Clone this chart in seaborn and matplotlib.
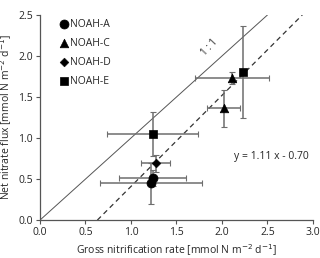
import numpy as np
import pandas as pd
import matplotlib
matplotlib.use("Agg")
import matplotlib.pyplot as plt
import seaborn as sns

sns.set_style("ticks")
plt.rcParams['font.family'] = ['Open Sans', 'DejaVu Sans']

# valores
site = ["NOAH-A", "NOAH-A", "NOAH-C", "NOAH-C", "NOAH-D", "NOAH-E", "NOAH-E"]
gross = [1.24, 1.22, 2.02, 2.11, 1.27, 1.24, 2.23]
net = [0.51, 0.45, 1.36, 1.73, 0.69, 1.05, 1.80]
gross_err = [0.37, 0.56, 0.18, 0.41, 0.16, 0.50, 0.0]
net_err = [0.10, 0.25, 0.23, 0.07, 0.10, 0.27, 0.56]
sites = ["NOAH-A", "NOAH-C", "NOAH-D", "NOAH-E"]
markers = {"NOAH-A": "o", "NOAH-C": "^", "NOAH-D": "D", "NOAH-E": "s"}
sizes = {"NOAH-A": 42, "NOAH-C": 38, "NOAH-D": 20, "NOAH-E": 38}
slope, intercept = 1.11, -0.70

df = pd.DataFrame({"Site": site, "Gross": gross, "Net": net,
                   "GrossErr": gross_err, "NetErr": net_err})

fig, ax = plt.subplots(figsize=(3.2, 2.58), dpi=100)
fig.subplots_adjust(left=0.125, right=0.978, bottom=0.147, top=0.942)

# linha 1:1 e regressão
x11 = np.array([0, 2.5])
ax.plot(x11, x11, color="#555555", lw=0.7)
xr = np.array([-intercept / slope, (2.5 - intercept) / slope])
ax.plot(xr, slope * xr + intercept, color="#333333", lw=0.9, ls=(0, (4, 3)))

ax.errorbar(df["Gross"], df["Net"], xerr=df["GrossErr"], yerr=df["NetErr"],
            fmt="none", ecolor="#6e6e6e", elinewidth=1.1, capsize=2, capthick=0.8, zorder=2)

for s in sites:
    d = df[df["Site"] == s]
    sns.scatterplot(data=d, x="Gross", y="Net", marker=markers[s], s=sizes[s],
                    color="black", edgecolor="black", label=s, ax=ax, zorder=3)

ax.text(1.86, 2.1, "1 : 1", rotation=47, fontsize=7, ha="center", va="center")
ax.text(2.95, 0.77, "y = 1.11 x - 0.70", fontsize=7.5, ha="right", va="center")

ax.set_xlim(0, 3.0)
ax.set_ylim(0, 2.5)
ax.set_xticks(np.arange(0, 3.01, 0.5))
ax.set_yticks(np.arange(0, 2.51, 0.5))
ax.xaxis.set_major_formatter(matplotlib.ticker.FormatStrFormatter("%.1f"))
ax.yaxis.set_major_formatter(matplotlib.ticker.FormatStrFormatter("%.1f"))
ax.set_xlabel("Gross nitrification rate [mmol N m$^{-2}$ d$^{-1}$]", fontsize=7.5, labelpad=3)
ax.set_ylabel("Net nitrate flux [mmol N m$^{-2}$ d$^{-1}$]", fontsize=7.5, labelpad=3)
ax.tick_params(labelsize=7.5, length=3, width=0.8, color="#555555", pad=2)
for sp in ["left", "bottom"]:
    ax.spines[sp].set_color("#555555")
    ax.spines[sp].set_linewidth(0.9)
sns.despine(ax=ax)

ax.legend(loc="upper left", frameon=False, fontsize=7.5, handletextpad=0.0,
          borderaxespad=0.0, labelspacing=0.75, handlelength=1.2, bbox_to_anchor=(0.05, 1.0))

fig.savefig("out.png", dpi=100)
